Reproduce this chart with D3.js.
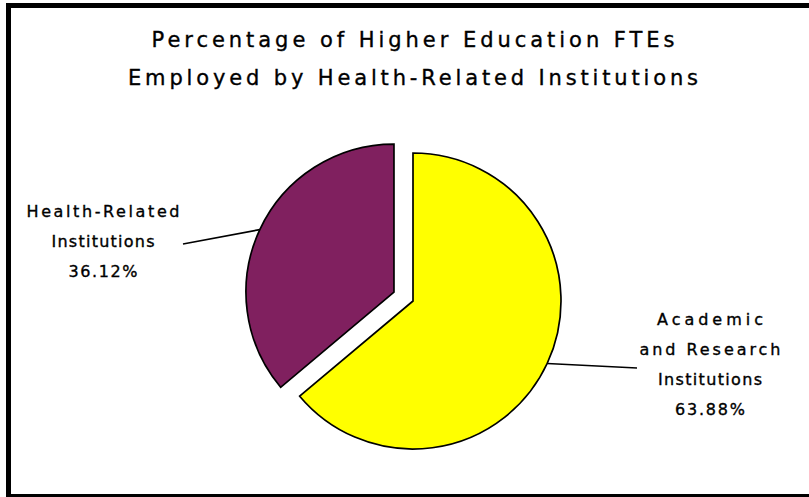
<!DOCTYPE html>
<html><head><meta charset="utf-8">
<script src="https://cdn.jsdelivr.net/npm/d3@7"></script>
<style>
html,body{margin:0;padding:0;background:#fff;}
svg{display:block;}
text{font-family:"DejaVu Sans",Verdana,sans-serif;fill:#000;stroke:#000;stroke-width:0.35px;}
</style></head>
<body>
<svg id="chart" width="809" height="497"></svg>
<script>
const titleLines = ["Percentage of Higher Education FTEs", "Employed by Health-Related Institutions"];
const categories = ["Academic and Research Institutions", "Health-Related Institutions"];
const values = [63.88, 36.12];
const labelLines = [["Academic", "and Research", "Institutions", "63.88%"], ["Health-Related", "Institutions", "36.12%"]];
const colors = ["#ffff00", "#80205f"];

const svg = d3.select("#chart");
svg.append("rect").attr("width", 809).attr("height", 497).attr("fill", "#fff");
svg.append("rect").attr("x", 8.5).attr("y", 5.5).attr("width", 820).attr("height", 491)
  .attr("fill", "none").attr("stroke", "#000").attr("stroke-width", 5);

// title
const titleW = [523, 570];
svg.selectAll("text.title").data(titleLines).join("text").attr("class", "title")
  .attr("x", 413).attr("y", (d, i) => 47 + i * 38)
  .attr("text-anchor", "middle").attr("font-size", 21)
  .attr("textLength", (d, i) => titleW[i]).attr("lengthAdjust", "spacing")
  .text(d => d);

const cx = 413, cy = 301, R = 148, explode = 21;
const pie = d3.pie().sort(null).value(d => d)(values);
const arc = d3.arc().innerRadius(0).outerRadius(R);
const g = svg.append("g").attr("transform", `translate(${cx},${cy})`);

pie.forEach((p, i) => {
  const mid = (p.startAngle + p.endAngle) / 2;
  const off = i === 1 ? explode : 0;
  const ox = Math.sin(mid) * off, oy = -Math.cos(mid) * off;
  g.append("path").attr("d", arc(p)).attr("transform", `translate(${ox},${oy})`)
    .attr("fill", colors[i]).attr("stroke", "#000").attr("stroke-width", 1.7)
    .attr("stroke-linejoin", "miter");
  p.ox = ox; p.oy = oy; p.mid = mid;
});

// labels
const labelCfg = [
  {x: 710, y: 325, end: [637, 368], widths: [106, 141, 104, 70]},
  {x: 103, y: 217, end: [183, 244], widths: [153, 103, 69]}
];
pie.forEach((p, i) => {
  const c = labelCfg[i];
  const ex = cx + p.ox + Math.sin(p.mid) * R, ey = cy + p.oy - Math.cos(p.mid) * R;
  svg.append("line").attr("x1", ex).attr("y1", ey).attr("x2", c.end[0]).attr("y2", c.end[1])
    .attr("stroke", "#000").attr("stroke-width", 1.7);
  svg.selectAll(null).data(labelLines[i]).join("text")
    .attr("x", c.x).attr("y", (d, j) => c.y + j * 30)
    .attr("text-anchor", "middle").attr("font-size", 16)
    .attr("textLength", (d, j) => c.widths[j]).attr("lengthAdjust", "spacing")
    .text(d => d);
});
</script>
</body></html>
